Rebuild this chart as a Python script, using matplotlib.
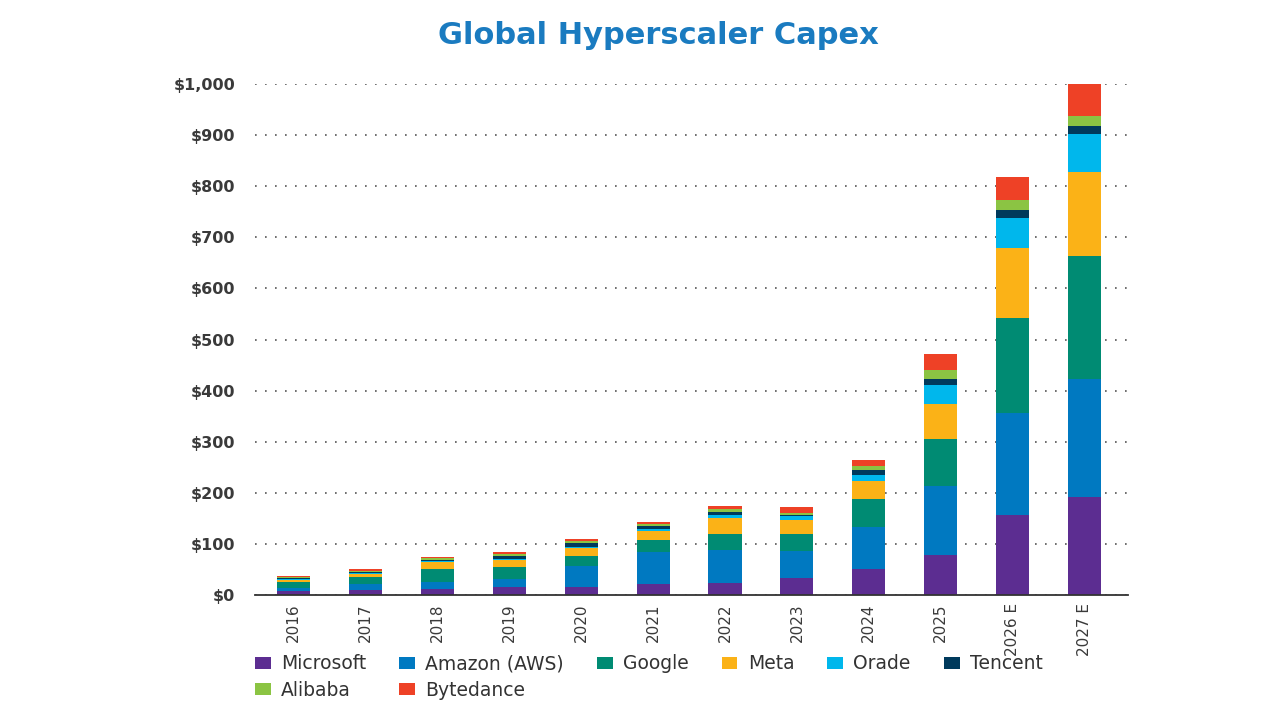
import matplotlib
matplotlib.use("Agg")
import matplotlib.pyplot as plt
from matplotlib.patches import Patch
import numpy as np

years = ['2016', '2017', '2018', '2019', '2020', '2021', '2022', '2023',
         '2024', '2025', '2026 E', '2027 E']
microsoft = [8, 10, 12, 15, 16, 22, 24, 33, 51, 79, 157, 192]
amazon = [6.5, 11.5, 13.5, 15.5, 41, 62, 64, 53, 83, 134, 200, 231]
google = [11, 13, 25, 24.5, 20, 23, 32, 33, 53, 93, 186, 240]
meta = [4, 6.5, 13.5, 13.5, 15.5, 18, 30, 27.5, 37, 68, 136, 164]
oracle = [1.3, 1.3, 2, 2.5, 2, 5, 6.5, 8, 11, 37, 59, 75]
tencent = [2, 2.5, 3, 5, 7, 4.5, 5, 2, 10.5, 11.5, 15, 15.5]
alibaba = [2.5, 3, 3, 4.5, 4.5, 4, 6, 4, 6.5, 18, 20, 20]
bytedance = [2, 2.5, 3, 4.5, 3, 4, 6, 12, 13, 32, 46, 62]

series_names = ['Microsoft', 'Amazon (AWS)', 'Google', 'Meta', 'Orade',
                'Tencent', 'Alibaba', 'Bytedance']
series_vals = [microsoft, amazon, google, meta, oracle, tencent, alibaba, bytedance]
colors = ['#5c2d91', '#0079c1', '#008b73', '#fbb217', '#00b7ec',
          '#003a5c', '#8bc443', '#ee4126']

yticks = [0, 100, 200, 300, 400, 500, 600, 700, 800, 900, 1000]
ytick_labels = ['$0', '$100', '$200', '$300', '$400', '$500', '$600',
                '$700', '$800', '$900', '$1,000']

fig = plt.figure(figsize=(12.8, 7.2), dpi=100)
ax = fig.add_axes([0.199, 0.1736, 0.682, 0.7097])

x = np.arange(len(years))
bottom = np.zeros(len(years))
for name, vals, c in zip(series_names, series_vals, colors):
    v = np.array(vals, dtype=float)
    ax.bar(x, v, bottom=bottom, width=0.46, color=c, label=name, zorder=3,
           linewidth=0)
    bottom += v

ax.set_xlim(-0.54, 11.6)
ax.set_ylim(0, 1000)
ax.set_yticks(yticks)
ax.set_yticklabels(ytick_labels, fontfamily='DejaVu Sans', fontsize=11.5,
                   color='#3a3a3a', fontweight='semibold')
ax.set_xticks(x)
ax.set_xticklabels(years, rotation=90, fontfamily='DejaVu Sans', fontsize=11,
                   color='#3a3a3a')
ax.tick_params(axis='y', length=0, pad=14)
ax.tick_params(axis='x', length=0, pad=6)

for s in ['top', 'right', 'left']:
    ax.spines[s].set_visible(False)
ax.spines['bottom'].set_color('#333333')
ax.spines['bottom'].set_linewidth(1.3)
ax.spines['bottom'].set_zorder(4)

ax.yaxis.grid(True, linestyle=(0, (1, 5)), color='#555555', linewidth=1.2,
              zorder=0)
ax.set_axisbelow(True)

fig.text(0.514, 0.950, 'Global Hyperscaler Capex', ha='center', va='center',
         fontfamily='DejaVu Sans', fontweight='bold', fontsize=22,
         color='#1a7bc0')

# legend in row-major order
order = [0, 6, 1, 7, 2, 3, 4, 5]
handles = [Patch(facecolor=colors[i], edgecolor='none') for i in order]
labels = [series_names[i] for i in order]
fig.legend(handles, labels, ncol=6, loc='upper left',
           bbox_to_anchor=(0.199, 0.091), frameon=False,
           prop={'family': 'DejaVu Sans', 'size': 13.5}, handlelength=0.85,
           handleheight=0.6, handletextpad=0.55, columnspacing=1.75,
           labelspacing=0.38, labelcolor='#333333', borderaxespad=0,
           borderpad=0)

fig.savefig('out.png', dpi=100)
